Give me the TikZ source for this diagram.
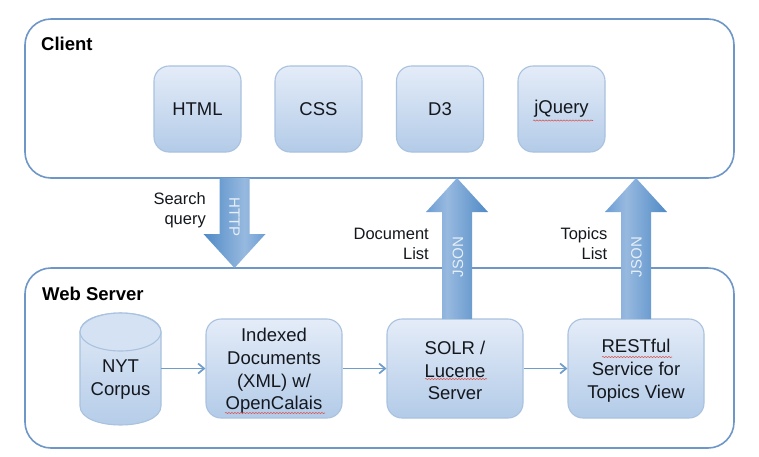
\documentclass[tikz,border=0pt]{standalone}
\usepackage{fontspec}
\setmainfont{Liberation Sans}
\usetikzlibrary{arrows.meta,decorations.pathmorphing,calc}
\definecolor{framec}{HTML}{6E97C8}
\definecolor{edgec}{HTML}{A9C2DF}
\definecolor{boxtop}{HTML}{E4ECF8}
\definecolor{boxbot}{HTML}{B3CBE8}
\definecolor{linkc}{HTML}{6E9CCB}
\definecolor{inkc}{HTML}{14181E}
\definecolor{jsonc}{HTML}{E6EFF8}
\definecolor{spellc}{HTML}{D9534F}
\definecolor{arrA}{HTML}{6C9DD4}
\definecolor{arrB}{HTML}{97B9DF}
\definecolor{arrC}{HTML}{4F8AC6}
\pgfdeclarehorizontalshading{upshade}{100bp}{color(0bp)=(arrA); color(25bp)=(arrA); color(42bp)=(arrB); color(75bp)=(arrC); color(100bp)=(arrC)}
\pgfdeclarehorizontalshading{downshade}{100bp}{color(0bp)=(arrC); color(25bp)=(arrC); color(58bp)=(arrB); color(75bp)=(arrA); color(100bp)=(arrA)}
\newcommand{\blockarrow}[3]{%
  \path[shading=#3]
    ([xshift=-15pt]#1) -- ([xshift=15pt]#1) --
    ($(#2)!34pt!(#1)+(15pt,0)$) -- ($(#2)!34pt!(#1)+(31pt,0)$) --
    (#2) --
    ($(#2)!34pt!(#1)+(-31pt,0)$) -- ($(#2)!34pt!(#1)+(-15pt,0)$) -- cycle;}
\tikzset{
  frame/.style={draw=framec,line width=1.6pt,rounded corners=26pt,fill=white},
  boxbase/.style={draw=edgec,line width=1.1pt,top color=boxtop,bottom color=boxbot,align=center,text=inkc,
    font=\fontsize{18.5}{22.8}\selectfont,inner sep=0pt},
  tile/.style={boxbase,rounded corners=15pt,minimum width=87pt,minimum height=86pt},
  proc/.style={boxbase,rounded corners=15pt,minimum width=136pt,minimum height=99pt},
  cyl/.style={draw=edgec,line width=1.1pt},
  boxtext/.style={font=\fontsize{18.5}{22.8}\selectfont,text=inkc,align=center,inner sep=0pt},
  head/.style={font=\bfseries\fontsize{18.5}{22}\selectfont,text=black,inner sep=0pt,anchor=west},
  note/.style={font=\fontsize{16.5}{20}\selectfont,text=inkc,align=right,inner sep=0pt,anchor=east},
  tag/.style={font=\fontsize{15}{16}\selectfont,text=jsonc,inner sep=0pt},
  link/.style={draw=linkc,line width=1.7pt,-{Straight Barb[length=6pt,width=10pt,line width=1.7pt]}},
  spell/.style={draw=spellc,line width=0.55pt,decorate,decoration={snake,amplitude=0.6pt,segment length=3pt}}
}
\begin{document}
\begin{tikzpicture}[x=1pt,y=-1pt]
\useasboundingbox (0,0) rectangle (759,456);
\fill[white] (0,0) rectangle (759,456);
% frames
\node[frame,minimum width=709pt,minimum height=159pt,inner sep=0pt] (client) at (379.5,98.5) {};
\node[frame,minimum width=709pt,minimum height=180pt,inner sep=0pt] (server) at (379.5,358) {};
\node[head] (clientlabel) at (41,44) {Client};
\node[head] (serverlabel) at (42,294) {Web Server};
% client tiles
\node[tile] (html) at (197.5,109) {HTML};
\node[tile] (css) at (318.5,109) {CSS};
\node[tile] (d3) at (440,109) {D3};
\node[tile] (jq) at (561.5,109) {jQuery};
% cylinder
\path[cyl,top color=boxtop,bottom color=boxbot]
  (80,332) -- (80,406) .. controls (80,431.3) and (161,431.3) .. (161,406) -- (161,332)
  .. controls (161,306.7) and (80,306.7) .. (80,332) -- cycle;
\path[cyl,fill=boxbot!30!boxtop] (120.5,332) ellipse[x radius=40.5,y radius=19];
\node[minimum width=81pt,minimum height=112pt,inner sep=0pt] (nyt) at (120.5,369) {};
\node[boxtext] (nytlabel) at (120.5,379.5) {NYT\\Corpus};
% server boxes
\node[proc] (idx) at (274,368.5) {};
\node[proc] (solr) at (455,368.5) {};
\node[proc] (rest) at (636,368.5) {};
\node[boxtext] (idxlabel) at (274,371) {Indexed\\Documents\\(XML) w/\\OpenCalais};
\node[boxtext] (solrlabel) at (455,370.5) {SOLR /\\Lucene\\Server};
\node[boxtext] (restlabel) at (636,370.5) {RESTful\\Service for\\Topics View};
% block arrows
\coordinate (h1) at (234.5,178);
\coordinate (h2) at (234.5,268);
\coordinate (j1a) at (457,319);
\coordinate (j1b) at (457,178);
\coordinate (j2a) at (636,319);
\coordinate (j2b) at (636,178);
\blockarrow{h1}{h2}{downshade}
\blockarrow{j1a}{j1b}{upshade}
\blockarrow{j2a}{j2b}{upshade}
\node[tag,rotate=-90] (httptag) at (234.5,217) {HTTP};
\node[tag,rotate=90] (json1) at (458,257) {JSON};
\node[tag,rotate=90] (json2) at (636.5,257) {JSON};
% labels
\node[note] (search) at (206,210) {Search\\query};
\node[note] (doclist) at (429,243.5) {Document\\List};
\node[note] (toplist) at (607.5,243.5) {Topics\\List};
% connectors
\draw[link] (nyt.east |- idx.west) -- (idx.west);
\draw[link] (idx.east) -- (solr.west);
\draw[link] (solr.east) -- (rest.west);
% spell-check underlines
\draw[spell] (533,120.5) -- (593,120.5);
\draw[spell] (225,413) -- (325,413);
\draw[spell] (425,379) -- (487,379);
\draw[spell] (602,357) -- (672,357);
\end{tikzpicture}
\end{document}
